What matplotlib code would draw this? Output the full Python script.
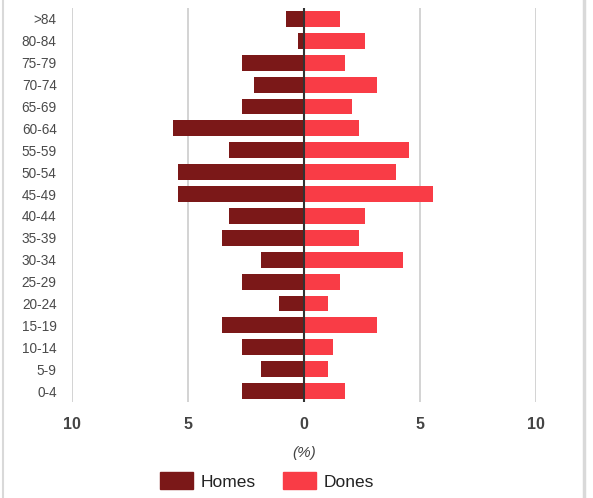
import matplotlib
matplotlib.use("Agg")
import matplotlib.pyplot as plt
from matplotlib.lines import Line2D
from matplotlib.patches import Patch

plt.rcParams['font.family'] = ['Liberation Sans', 'DejaVu Sans']

categories = ["0-4", "5-9", "10-14", "15-19", "20-24", "25-29", "30-34", "35-39",
              "40-44", "45-49", "50-54", "55-59", "60-64", "65-69", "70-74",
              "75-79", "80-84", ">84"]
homes = [2.69, 1.85, 2.69, 3.52, 1.09, 2.69, 1.85, 3.52, 3.22, 5.42, 5.42, 3.22,
         5.66, 2.69, 2.16, 2.69, 0.27, 0.78]
dones = [1.78, 1.02, 1.25, 3.15, 1.02, 1.55, 4.28, 2.39, 2.61, 5.58, 3.98, 4.51,
         2.39, 2.08, 3.15, 1.78, 2.61, 1.55]
xticks = [-10, -5, 0, 5, 10]
xticklabels = ["10", "5", "0", "5", "10"]

c_homes = "#7b1818"
c_dones = "#f93c46"

fig = plt.figure(figsize=(5.93, 4.98), dpi=100)
ax = fig.add_axes([72/593, 1-402/498, (536-72)/593, (402-8)/498])

y = list(range(len(categories)))
ax.barh(y, [-v for v in homes], height=0.73, color=c_homes, zorder=2)
ax.barh(y, dones, height=0.73, color=c_dones, zorder=2)

ax.set_xlim(-10, 10)
ax.set_ylim(-0.5, len(categories) - 0.5)
for xv in [-10, -5, 5, 10]:
    ax.axvline(xv, color="#cccccc", lw=1.2, zorder=1)
ax.axvline(0, color="#333333", lw=1.5, zorder=3)

ax.set_yticks(y)
ax.set_yticklabels(categories, fontsize=9.8, color="#4a4a4a")
ax.set_xticks(xticks)
ax.set_xticklabels(xticklabels, fontsize=11.5, color="#444444", fontweight="bold")
ax.tick_params(axis="y", length=0, pad=11)
ax.tick_params(axis="x", length=0, pad=11)
for s in ax.spines.values():
    s.set_visible(False)

ax.set_xlabel("(%)", fontsize=11, style="italic", color="#444444", labelpad=10)

handles = [Patch(facecolor=c_homes, edgecolor=c_homes), Patch(facecolor=c_dones, edgecolor=c_dones)]
fig.legend(handles, ["Homes", "Dones"], loc="center", bbox_to_anchor=(267/593, 1-481/498),
           ncol=2, frameon=False, fontsize=12.5, handlelength=1.9, handleheight=1.1,
           handletextpad=0.4, columnspacing=1.6, labelcolor="#222222")

fig.add_artist(Line2D([2.5/593, 2.5/593], [0, 1], color="#d9d9d9", lw=1.5, transform=fig.transFigure))
fig.add_artist(Line2D([584/593, 584/593], [0, 1], color="#d9d9d9", lw=2.5, transform=fig.transFigure))

fig.savefig("out.png", dpi=100)
